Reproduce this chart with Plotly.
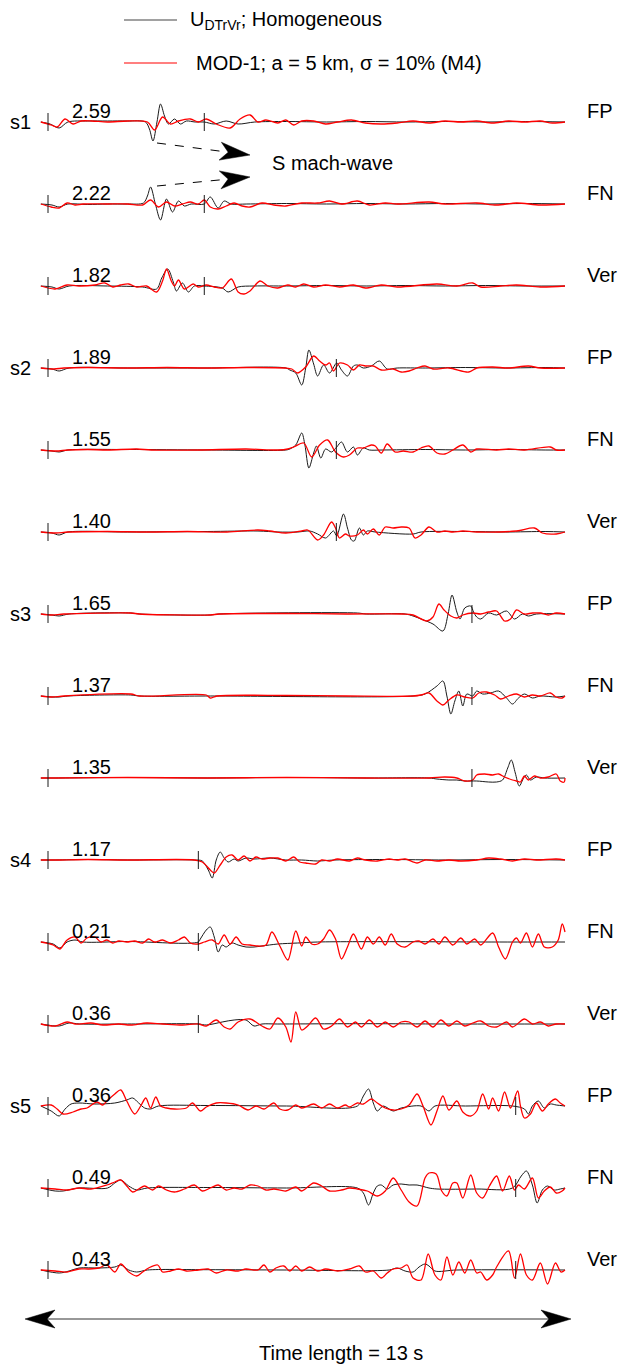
import math
import plotly.graph_objects as go

# ---------------- data (time in s, amplitude in display units, up = positive) -------------
STATIONS = ["s1", "s2", "s3", "s4", "s5"]
COMPONENTS = ["FP", "FN", "Ver"]
PEAK_LABELS = ["2.59", "2.22", "1.82", "1.89", "1.55", "1.40", "1.65", "1.37", "1.35",
               "1.17", "0.21", "0.36", "0.36", "0.49", "0.43"]
SECOND_TICK_TIMES = [3.93, 3.93, 3.93, 7.25, 7.25, 7.25, 10.66, 10.66, 10.66,
                     3.78, 3.78, 3.78, 11.76, 11.76, 11.76]
TIME_LENGTH = 13

S1_FP_HOM = [(-0.18,0),(0.05,-2),(0.28,-6),(0.5,0),(1.0,1),(1.5,1),(2.0,1),(2.45,0),(2.55,-7),(2.64,-19),(2.74,0),(2.83,18),(2.93,6),(3.03,-2),(3.18,3),(3.33,-2),(3.48,1),(3.7,0),(3.93,0),(4.18,-2),(4.48,1),(4.78,-2),(5.2,0),(6,0.5),(7,0),(8,0.5),(9,0),(10,0.5),(11,0),(12,0.5),(13,0)]
S1_FP_MOD = [(-0.18,0),(0.08,-3),(0.23,-5),(0.43,3),(0.63,-2),(0.83,1),(1.1,1),(1.5,0),(2.0,1),(2.5,0),(2.68,-8),(2.88,5),(3.08,-2),(3.28,1),(3.58,3),(3.78,0),(3.98,3),(4.23,-2),(4.58,-6),(4.83,3),(5.08,7),(5.28,0),(5.48,2),(5.78,-1),(5.98,2),(6.18,-3),(6.38,1),(6.68,1),(6.98,-2),(7.28,0),(7.63,2),(7.98,-1),(8.38,-2),(8.78,-1),(9.18,1),(9.58,-1),(9.98,1),(10.38,0),(10.78,1),(11.18,-1),(11.58,1),(11.98,0),(12.38,1),(12.68,-1),(13.0,0)]

S1_FN_HOM = [(-0.18,0),(0.1,-1),(0.28,-3),(0.5,0),(1.0,-0.5),(1.5,0),(2.0,0),(2.4,1),(2.5,8),(2.58,17),(2.7,0),(2.83,-16),(2.98,5),(3.13,-8),(3.28,3),(3.43,-2),(3.6,0),(3.93,0),(4.08,7),(4.28,-4),(4.43,3),(4.6,0),(5.0,0),(6,0.5),(7,0),(8,0.5),(9,0),(10,0.5),(11,0),(12,0.5),(13,0)]
S1_FN_MOD = [(-0.18,0),(0.08,-3),(0.28,-4),(0.48,1),(0.68,-1),(0.88,0),(1.5,0),(2.0,0),(2.38,-1),(2.58,4),(2.78,-3),(2.98,2),(3.18,-2),(3.38,0),(3.58,2),(3.78,0),(3.93,4),(4.08,-3),(4.28,-5),(4.48,-2),(4.68,1),(4.88,-2),(5.08,-3),(5.38,1),(5.68,-1),(5.98,-2),(6.38,1),(6.78,1),(7.08,3),(7.38,0),(7.78,3),(8.08,-1),(8.48,1),(8.78,0),(9.58,2),(9.98,0),(10.78,1),(11.28,-1),(11.78,1),(12.38,-1),(13.0,0)]

S1_VER_HOM = [(-0.18,0),(0.1,-1),(0.28,-3),(0.53,0),(1.5,0),(2.38,-1),(2.73,-3),(2.86,8),(3.01,17),(3.15,4),(3.23,-5),(3.38,3),(3.53,-6),(3.68,0),(3.93,0),(4.38,-2),(4.53,-6),(4.78,-1),(5.18,0),(6,0),(7,0.5),(8,0),(9,0.5),(10,0),(11,0.5),(12,0),(13,0)]
S1_VER_MOD = [(-0.18,0),(0.18,-3),(0.48,1),(0.78,0),(1.18,1),(1.43,3),(1.63,-1),(1.83,1),(2.03,2),(2.23,-1),(2.48,0),(2.73,-6),(2.88,5),(2.98,17),(3.1,5),(3.18,0),(3.28,6),(3.43,-3),(3.65,2),(3.78,-1),(3.98,1),(4.18,-1),(4.38,-2),(4.61,7),(4.78,-6),(4.93,-8),(5.08,-5),(5.33,5),(5.53,0),(5.78,-2),(6.03,1),(6.23,-1),(6.43,2),(6.68,-1),(6.98,1),(7.33,-1),(7.68,1),(7.98,-2),(8.38,1),(8.78,-1),(9.78,2),(10.28,0),(10.68,3),(10.88,-1),(11.38,0),(11.78,1),(12.38,-1),(13.0,0)]

S2_FP_HOM = [(-0.18,0),(0.1,-1),(0.28,-3),(0.53,0),(2,0),(4,0),(5.98,0),(6.08,-2),(6.23,-5),(6.38,-17),(6.48,0),(6.56,18),(6.68,4),(6.78,-8),(6.93,3),(7.08,-5),(7.26,5),(7.38,-2),(7.53,-8),(7.68,2),(7.78,3),(7.93,0),(8.13,2),(8.33,7),(8.53,-1),(8.78,0),(9.5,0),(10.5,0.5),(11.5,0),(12.5,0.5),(13,0)]
S2_FP_MOD = [(-0.18,0),(0.15,-1),(0.4,0),(1,0.5),(2,0),(3,0.5),(4,0),(5,0.5),(5.98,0),(6.13,-1),(6.28,-5),(6.48,1),(6.68,12),(6.83,7),(6.98,3),(7.08,5),(7.18,-3),(7.33,5),(7.53,3),(7.68,-2),(7.83,3),(7.98,2),(8.18,2),(8.38,-2),(8.68,-1),(8.88,-4),(9.08,-3),(9.28,0),(9.48,2),(9.68,-1),(10.08,0),(10.58,-4),(10.78,0),(11.18,1),(11.58,0),(12.08,2),(12.38,0),(13,0)]

S2_FN_HOM = [(-0.18,0),(0.1,-1),(0.28,-2),(0.5,0),(2,0.5),(4,0),(5.98,0),(6.08,1),(6.23,5),(6.38,17),(6.46,5),(6.56,-18),(6.68,-3),(6.75,4),(6.86,-8),(6.98,1),(7.13,-2),(7.26,3),(7.38,8),(7.53,-2),(7.68,3),(7.78,-5),(7.93,2),(8.08,0),(8.4,0),(9.5,0.5),(10.5,0),(11.5,0.5),(12.5,0),(13,0)]
S2_FN_MOD = [(-0.18,0),(0.2,-1),(0.5,0),(1.0,0.5),(1.5,0),(2.23,1),(2.6,0),(3.78,0),(4.98,1),(5.78,0),(6.03,1),(6.18,3),(6.43,7),(6.63,-7),(6.83,5),(7.03,10),(7.23,-2),(7.43,-7),(7.58,-5),(7.78,2),(7.93,2),(8.13,5),(8.23,4),(8.38,-3),(8.53,6),(8.73,-2),(8.93,-1),(9.18,-2),(9.38,2),(9.58,4),(9.78,-3),(9.98,-4),(10.18,0),(10.43,5),(10.63,-2),(10.78,1),(11.28,0),(11.58,1),(11.98,0),(12.63,3),(12.78,0),(13,0)]

S2_VER_HOM = [(-0.18,0),(0.1,-1),(0.28,-3),(0.5,0),(2,0),(4,0.5),(5.28,1),(5.78,0),(6.28,0),(6.58,1),(6.78,-2),(6.98,-6),(7.18,1),(7.26,-4),(7.43,18),(7.53,4),(7.63,-8),(7.7,-9),(7.83,4),(7.93,-3),(8.03,1),(8.23,0),(9.18,-2),(9.38,0),(10.5,0.5),(11.5,0),(12.5,0.5),(13,0)]
S2_VER_MOD = [(-0.18,0),(0.2,-1),(0.5,0),(1.5,0.5),(2.5,0),(3.5,0.5),(4.5,0),(5.28,2),(5.58,1),(5.98,-1),(6.38,1),(6.53,2),(6.78,-8),(6.93,-3),(7.13,10),(7.23,4),(7.33,-6),(7.48,-2),(7.58,-4),(7.78,-3),(7.93,2),(8.03,-2),(8.18,3),(8.33,-3),(8.48,5),(8.68,4),(8.88,5),(9.08,4),(9.23,-6),(9.38,-3),(9.58,5),(9.78,0),(9.98,1),(10.18,0),(10.43,1),(10.78,0),(11.78,1),(12.23,4),(12.43,-1),(12.78,-2),(13,0)]

S3_FP_HOM = [(-0.18,0),(0.1,-1),(0.28,-2),(0.53,0),(2.08,1),(2.3,0),(4.08,-1),(4.3,0),(7.78,1),(8.0,0),(8.98,0),(9.18,-2),(9.38,-5),(9.68,-10),(9.93,-17),(10.06,0),(10.16,19),(10.28,2),(10.36,-5),(10.48,6),(10.63,8),(10.7,2),(10.78,-3),(10.88,-5),(11.08,1),(11.28,-1),(11.53,3),(11.73,-5),(11.93,0),(12.08,-2),(12.28,0),(13,0)]
S3_FP_MOD = [(-0.18,0),(0.1,-1),(0.4,0),(2.08,1),(2.3,0),(4.08,-1),(4.3,0),(6,0.5),(7.5,0),(8.93,0),(9.18,-1),(9.53,-7),(9.68,-3),(9.83,10),(9.96,4),(10.13,-2),(10.28,-4),(10.43,-1),(10.68,1),(10.88,0),(11.08,2),(11.28,3),(11.48,-7),(11.63,-5),(11.78,4),(11.98,0),(12.18,1),(12.38,1),(12.58,-1),(12.78,1),(13,0)]

S3_FN_HOM = [(-0.18,0),(0.1,-1),(0.28,-1),(0.5,0),(2.08,1),(2.3,0),(4.08,0),(9.18,0),(9.48,2),(9.78,10),(9.93,15),(10.03,0),(10.13,-18),(10.23,-5),(10.33,5),(10.43,-10),(10.53,2),(10.68,0),(10.78,5),(10.93,2),(11.13,3),(11.33,5),(11.53,-2),(11.68,-8),(11.83,-2),(11.98,2),(12.18,-2),(12.38,0),(12.78,-1),(13,0)]
S3_FN_MOD = [(-0.18,0),(0.1,-1),(0.4,0),(2.08,2),(2.3,0),(3.98,1),(4.08,-2),(4.25,0),(6,0.5),(7.5,0),(9.18,0),(9.38,1),(9.58,3),(9.78,-5),(9.93,-9),(10.08,-4),(10.28,1),(10.48,-1),(10.68,-2),(10.83,3),(11.03,4),(11.23,1),(11.38,-3),(11.58,0),(11.78,2),(11.98,-1),(12.18,1),(12.38,0),(12.63,3),(12.78,-1),(12.93,-2),(13,0)]

S3_VER_HOM = [(-0.18,0),(0.2,0),(2,0.5),(4,0),(6,0.5),(8,0),(9.58,0),(9.78,-1),(10.08,-2),(10.28,-2),(10.48,-3),(10.78,-3),(11.08,-4),(11.28,-4),(11.43,-2),(11.56,10),(11.65,18),(11.75,5),(11.85,-8),(11.96,0),(12.03,3),(12.13,-2),(12.28,1),(12.48,0),(13,0)]
S3_VER_MOD = [(-0.18,0),(0.2,0),(2,0.5),(4,0),(6,0.5),(8,0),(9.58,0),(9.98,1),(10.28,0),(10.48,-3),(10.68,-2),(10.78,3),(10.98,4),(11.18,3),(11.33,4),(11.48,1),(11.68,-2),(11.78,-3),(11.88,-4),(11.98,2),(12.08,-2),(12.23,2),(12.38,0),(12.58,1),(12.78,4),(12.88,-3),(12.98,-4),(13,0)]

S4_FP_HOM = [(-0.18,0),(0.2,0),(1,0.5),(2,0),(3.68,0),(3.88,-1),(4.03,-10),(4.13,-18),(4.23,0),(4.33,8),(4.43,2),(4.53,-2),(4.68,1),(4.78,-1),(4.98,2),(5.18,1),(5.58,2),(5.98,0),(6.38,0),(6.78,-1),(7.2,0),(8.5,0.5),(10,0),(11.5,0.5),(13,0)]
S4_FP_MOD = [(-0.18,0),(0.2,0),(1,0.5),(2,0),(3.68,0),(3.88,-2),(4.08,-10),(4.18,-13),(4.33,-5),(4.48,3),(4.63,5),(4.78,0),(4.93,4),(5.08,-1),(5.23,3),(5.38,1),(5.58,2),(5.78,2),(5.98,-1),(6.18,3),(6.33,-2),(6.48,-3),(6.73,-4),(6.88,0),(7.08,-1),(7.28,1),(7.58,-1),(7.78,2),(7.98,0),(8.28,-1),(8.58,1),(8.78,0),(8.98,1),(9.28,-3),(9.48,0),(9.78,-1),(10.08,0),(10.38,-1),(10.78,0),(11.08,2),(11.38,1),(11.68,-1),(11.98,1),(12.28,0),(12.78,1),(13,0)]

S4_FN_HOM = [(-0.18,0),(0.13,-2),(0.3,-6),(0.48,0),(0.68,2),(0.88,0),(2,0.5),(3.78,0),(3.83,3),(3.98,12),(4.08,15),(4.18,5),(4.28,-10),(4.38,-3),(4.48,-5),(4.63,-1),(4.78,-3),(4.98,-5),(5.18,-5),(5.38,-4),(5.78,-2),(6.28,-1),(6.78,0),(9,0.3),(11,0),(13,0)]
S4_FN_MOD = [(-0.18,0),(0.13,-3),(0.3,-7),(0.48,2),(0.68,5),(0.83,-1),(0.98,4),(1.18,5),(1.33,0),(1.48,2),(1.63,-1),(1.78,1),(1.98,0),(2.18,1),(2.38,-1),(2.53,3),(2.68,0),(2.88,2),(3.08,-1),(3.28,2),(3.43,5),(3.58,-1),(3.78,-2),(3.93,0),(4.13,2),(4.28,-2),(4.43,7),(4.58,-2),(4.73,5),(4.88,-2),(5.08,-3),(5.28,-4),(5.48,-3),(5.63,10),(5.83,-4),(6.03,-18),(6.23,11),(6.38,-4),(6.48,5),(6.63,-2),(6.78,-2),(6.93,3),(7.08,12),(7.23,3),(7.38,-17),(7.53,-5),(7.68,8),(7.88,-7),(8.03,5),(8.18,-2),(8.33,5),(8.48,-3),(8.63,8),(8.78,-2),(8.98,-5),(9.18,0),(9.33,1),(9.48,-2),(9.68,3),(9.83,-2),(9.98,5),(10.18,-3),(10.38,4),(10.53,-2),(10.73,3),(10.88,-3),(11.18,9),(11.33,-5),(11.5,-17),(11.68,0),(11.78,4),(11.88,-1),(12.03,9),(12.18,-5),(12.33,8),(12.48,-5),(12.68,-5),(12.83,2),(12.93,18),(13.0,10)]

S4_VER_HOM = [(-0.18,0),(0.28,-2),(0.53,1),(0.8,0),(2,0),(3.78,0),(3.98,-1),(4.38,2),(4.68,4),(4.98,4),(5.18,-2),(5.38,0),(5.78,0),(8,0.3),(10,0),(13,0)]
S4_VER_MOD = [(-0.18,0),(0.18,-2),(0.48,2),(0.68,0),(1.08,1),(1.38,-1),(1.78,0),(2.08,-1),(2.48,1),(2.88,0),(3.38,-1),(3.78,0),(3.98,-2),(4.23,4),(4.43,-3),(4.58,-5),(4.78,2),(5.08,5),(5.38,-2),(5.58,-5),(5.78,6),(5.98,-3),(6.11,-18),(6.23,12),(6.38,-6),(6.53,-2),(6.73,6),(6.93,-5),(7.13,-2),(7.33,5),(7.53,-3),(7.73,2),(7.88,-3),(8.08,4),(8.28,-3),(8.48,2),(8.68,-3),(8.88,2),(9.08,2),(9.28,-3),(9.48,3),(9.68,-3),(9.88,4),(10.08,-2),(10.28,3),(10.48,-2),(10.68,1),(10.88,3),(11.08,-2),(11.28,-3),(11.53,2),(11.68,-3),(11.98,5),(12.18,0),(12.38,2),(12.58,-2),(12.78,0),(13,0)]

S5_FP_HOM = [(-0.18,0),(0.08,-5),(0.28,-10),(0.43,-3),(0.58,2),(0.78,3),(1.18,2),(1.68,3),(1.98,6),(2.13,8),(2.28,3),(2.43,-2),(2.58,-3),(2.78,0),(4,0.5),(6,0),(7.78,0),(7.93,10),(8.06,17),(8.18,3),(8.28,-5),(8.43,0),(8.68,-5),(8.88,-2),(9.38,0),(9.58,-5),(9.73,0),(10.5,0),(11.68,0),(11.98,-3),(12.08,-8),(12.18,0),(12.33,5),(12.48,-2),(12.63,2),(12.78,1),(13,0)]
S5_FP_MOD = [(-0.18,0),(0.08,1),(0.23,-3),(0.38,-8),(0.63,-6),(0.83,-3),(0.98,-2),(1.23,4),(1.38,1),(1.48,5),(1.68,12),(1.83,16),(1.98,5),(2.18,-8),(2.33,0),(2.46,8),(2.58,-2),(2.71,9),(2.83,0),(2.98,-2),(3.18,-3),(3.48,-2),(3.63,3),(3.83,-5),(3.98,-1),(4.23,3),(4.48,3),(4.78,1),(5.03,-4),(5.23,0),(5.43,-3),(5.68,3),(5.83,-3),(6.03,-4),(6.23,1),(6.38,-2),(6.68,2),(6.88,-2),(7.08,2),(7.28,-2),(7.48,1),(7.58,-1),(7.78,3),(7.93,2),(8.13,7),(8.28,3),(8.48,-2),(8.68,-4),(8.88,-3),(9.08,1),(9.28,12),(9.43,0),(9.63,-19),(9.78,-5),(9.93,10),(10.08,-4),(10.28,5),(10.43,-6),(10.63,-10),(10.78,-5),(10.93,12),(11.08,-3),(11.18,8),(11.33,-5),(11.48,14),(11.63,-2),(11.81,15),(11.88,0),(11.98,-12),(12.13,-8),(12.28,3),(12.43,-5),(12.58,2),(12.76,7),(12.88,3),(13,0)]

S5_FN_HOM = [(-0.18,0),(0.18,-3),(0.38,-3),(0.78,0),(1.5,0),(1.68,5),(1.83,8),(2.03,2),(2.23,-2),(2.5,0),(4,0.5),(6,0),(7.78,0),(7.93,-5),(8.06,-17),(8.18,-5),(8.28,2),(8.38,3),(8.53,-1),(8.68,3),(8.88,4),(9.08,3),(9.28,3),(9.58,0),(9.78,-1),(10.78,-1),(11.68,0),(11.9,12),(12.03,17),(12.18,3),(12.3,-15),(12.43,-2),(12.56,2),(12.73,-2),(12.88,-1),(13,0)]
S5_FN_MOD = [(-0.18,0),(0.18,-1),(0.48,-2),(0.78,0),(1.08,-1),(1.48,3),(1.68,6),(1.83,8),(1.98,2),(2.13,-4),(2.28,-1),(2.43,2),(2.63,-2),(2.78,2),(2.98,-2),(3.18,-4),(3.43,-1),(3.68,3),(3.88,-3),(4.08,0),(4.28,3),(4.48,-2),(4.68,0),(4.88,-1),(5.08,3),(5.28,2),(5.48,-2),(5.68,-1),(5.98,-3),(6.23,1),(6.38,-3),(6.68,5),(6.88,2),(7.08,-3),(7.38,-2),(7.58,0),(7.78,-1),(8.03,-3),(8.28,-8),(8.48,-3),(8.68,10),(8.88,-2),(9.08,-14),(9.28,-18),(9.48,10),(9.58,15),(9.76,14),(9.9,-3),(10.03,-8),(10.18,5),(10.28,5),(10.43,-10),(10.63,13),(10.78,-5),(10.93,-10),(11.1,2),(11.28,12),(11.43,-3),(11.6,12),(11.73,-2),(11.83,3),(11.98,-1),(12.18,10),(12.33,-10),(12.48,-3),(12.63,1),(12.78,-5),(12.93,-3),(13,0)]

S5_VER_HOM = [(-0.18,0),(0.28,-3),(0.53,-1),(0.78,2),(1.28,2),(1.68,3),(1.83,5),(2.03,0),(2.23,-2),(2.5,0),(4,0.3),(6,0),(8.58,0),(8.78,2),(8.98,-1),(9.18,-2),(9.33,3),(9.48,6),(9.58,4),(9.73,-1),(10.28,0),(13,0)]
S5_VER_MOD = [(-0.18,0),(0.18,-1),(0.48,-2),(0.78,1),(1.03,1),(1.28,2),(1.48,5),(1.68,-2),(1.83,6),(2.03,-2),(2.23,-6),(2.38,-2),(2.53,2),(2.76,5),(2.88,-2),(3.08,-1),(3.28,1),(3.48,-1),(3.78,0),(4.03,1),(4.23,-3),(4.48,0),(4.78,-1),(4.98,1),(5.28,0),(5.43,5),(5.58,-2),(5.73,2),(5.93,4),(6.08,-1),(6.23,4),(6.38,-1),(6.58,3),(6.78,-1),(6.98,1),(7.28,-1),(7.58,1),(7.83,4),(7.98,-2),(8.18,-1),(8.38,-8),(8.53,-3),(8.68,1),(8.88,2),(9.03,5),(9.18,-8),(9.38,-10),(9.56,16),(9.73,-5),(9.88,-10),(10.03,13),(10.18,-5),(10.33,8),(10.48,-3),(10.63,10),(10.78,-3),(10.88,-2),(11.03,-10),(11.18,-5),(11.28,3),(11.58,19),(11.73,-8),(11.88,16),(12.03,-5),(12.18,-10),(12.38,7),(12.56,-14),(12.76,7),(12.9,-2),(13,0)]

HOMOGENEOUS = [S1_FP_HOM, S1_FN_HOM, S1_VER_HOM, S2_FP_HOM, S2_FN_HOM, S2_VER_HOM,
               S3_FP_HOM, S3_FN_HOM, S3_VER_HOM, S4_FP_HOM, S4_FN_HOM, S4_VER_HOM,
               S5_FP_HOM, S5_FN_HOM, S5_VER_HOM]
MODEL = [S1_FP_MOD, S1_FN_MOD, S1_VER_MOD, S2_FP_MOD, S2_FN_MOD, S2_VER_MOD,
         S3_FP_MOD, S3_FN_MOD, S3_VER_MOD, S4_FP_MOD, S4_FN_MOD, S4_VER_MOD,
         S5_FP_MOD, S5_FN_MOD, S5_VER_MOD]

LEGEND_HOM = "U<sub>DTrVr</sub>; Homogeneous"
LEGEND_MOD = "MOD-1; a = 5 km, σ = 10% (M4)"

# ---------------- layout helpers -------------
W, H = 619, 1368
X0_PX, X13_PX = 48, 565
PX_PER_S = (X13_PX - X0_PX) / TIME_LENGTH
BASE0_PX, SPACING_PX = 122, 82
GAIN = 1.0 / SPACING_PX
FONT = "Liberation Sans, Arial, sans-serif"
FS = 20


def xpx(px):
    return (px - X0_PX) / PX_PER_S


def ypx(py):
    return -(py - BASE0_PX) / SPACING_PX


fig = go.Figure()

for i in range(len(HOMOGENEOUS)):
    off = -i
    for series, color, width in ((HOMOGENEOUS[i], "#1a1a1a", 1.0), (MODEL[i], "#ff0000", 1.3)):
        fig.add_trace(go.Scatter(
            x=[p[0] for p in series],
            y=[off + p[1] * GAIN for p in series],
            mode="lines", line=dict(color=color, width=width, shape="spline", smoothing=0.9),
            hoverinfo="skip", showlegend=False))
    # arrival ticks
    for tt in (0.0, SECOND_TICK_TIMES[i]):
        fig.add_trace(go.Scatter(x=[tt, tt], y=[off - 9 * GAIN, off + 9 * GAIN], mode="lines",
                                 line=dict(color="#1a1a1a", width=1), hoverinfo="skip",
                                 showlegend=False))

annotations = []
shapes = []
for i, lab in enumerate(PEAK_LABELS):
    off = -i
    annotations.append(dict(x=xpx(70), y=off + 11 * GAIN, text=lab, showarrow=False,
                            xanchor="left", yanchor="middle",
                            font=dict(family=FONT, size=FS, color="black")))
    annotations.append(dict(x=xpx(585), y=off + 11 * GAIN, text=COMPONENTS[i % 3],
                            showarrow=False, xanchor="left", yanchor="middle",
                            font=dict(family=FONT, size=FS, color="black")))
    if i % 3 == 0:
        annotations.append(dict(x=xpx(8), y=off, text=STATIONS[i // 3], showarrow=False,
                                xanchor="left", yanchor="middle",
                                font=dict(family=FONT, size=FS, color="black")))

# legend
shapes.append(dict(type="line", x0=xpx(124), x1=xpx(177), y0=ypx(20), y1=ypx(20),
                   line=dict(color="#444444", width=1.2)))
shapes.append(dict(type="line", x0=xpx(124), x1=xpx(177), y0=ypx(63), y1=ypx(63),
                   line=dict(color="#ff0000", width=1.2)))
annotations.append(dict(x=xpx(188), y=ypx(20), text=LEGEND_HOM, showarrow=False,
                        xanchor="left", yanchor="middle",
                        font=dict(family=FONT, size=FS, color="black")))
annotations.append(dict(x=xpx(194), y=ypx(63), text=LEGEND_MOD, showarrow=False,
                        xanchor="left", yanchor="middle",
                        font=dict(family=FONT, size=FS, color="black")))


def arrowhead(tail, tip, length=30, half=9, notch=22):
    dx, dy = tip[0] - tail[0], tip[1] - tail[1]
    n = math.hypot(dx, dy)
    ux, uy = dx / n, dy / n
    px_, py_ = -uy, ux
    bx, by = tip[0] - length * ux, tip[1] - length * uy
    nx, ny = tip[0] - notch * ux, tip[1] - notch * uy
    pts = [tip, (bx + half * px_, by + half * py_), (nx, ny), (bx - half * px_, by - half * py_)]
    path = "M " + " L ".join(f"{xpx(a):.4f},{ypx(b):.4f}" for a, b in pts) + " Z"
    return path, (nx, ny)


# S mach-wave arrows
for tail, tip in (((157, 143), (250, 155)), ((157, 186), (250, 177))):
    path, nt = arrowhead(tail, tip)
    shapes.append(dict(type="line", x0=xpx(tail[0]), y0=ypx(tail[1]), x1=xpx(nt[0]),
                       y1=ypx(nt[1]), line=dict(color="black", width=1, dash="dash")))
    shapes.append(dict(type="path", path=path, fillcolor="black",
                       line=dict(color="black", width=0.5)))
annotations.append(dict(x=xpx(270), y=ypx(163), text="S mach-wave", showarrow=False,
                        xanchor="left", yanchor="middle",
                        font=dict(family=FONT, size=FS, color="black")))

# time length double arrow
pl, nl = arrowhead((300, 1319), (25, 1319), length=30, half=9, notch=22)
pr, nr = arrowhead((300, 1319), (571, 1319), length=30, half=9, notch=22)
shapes.append(dict(type="line", x0=xpx(nl[0]), x1=xpx(nr[0]), y0=ypx(1319), y1=ypx(1319),
                   line=dict(color="#333333", width=1.2)))
shapes.append(dict(type="path", path=pl, fillcolor="black", line=dict(color="black", width=0.5)))
shapes.append(dict(type="path", path=pr, fillcolor="black", line=dict(color="black", width=0.5)))
annotations.append(dict(x=xpx(341), y=ypx(1353), text=f"Time length = {TIME_LENGTH} s",
                        showarrow=False, xanchor="center", yanchor="middle",
                        font=dict(family=FONT, size=FS, color="black")))

fig.update_layout(
    width=W, height=H, autosize=False,
    margin=dict(l=0, r=0, t=0, b=0, pad=0),
    paper_bgcolor="white", plot_bgcolor="white",
    xaxis=dict(range=[xpx(0), xpx(W)], visible=False, fixedrange=True),
    yaxis=dict(range=[ypx(H), ypx(0)], visible=False, fixedrange=True),
    shapes=shapes, annotations=annotations, showlegend=False,
)

fig.write_html("out.html", config={"displayModeBar": False})
